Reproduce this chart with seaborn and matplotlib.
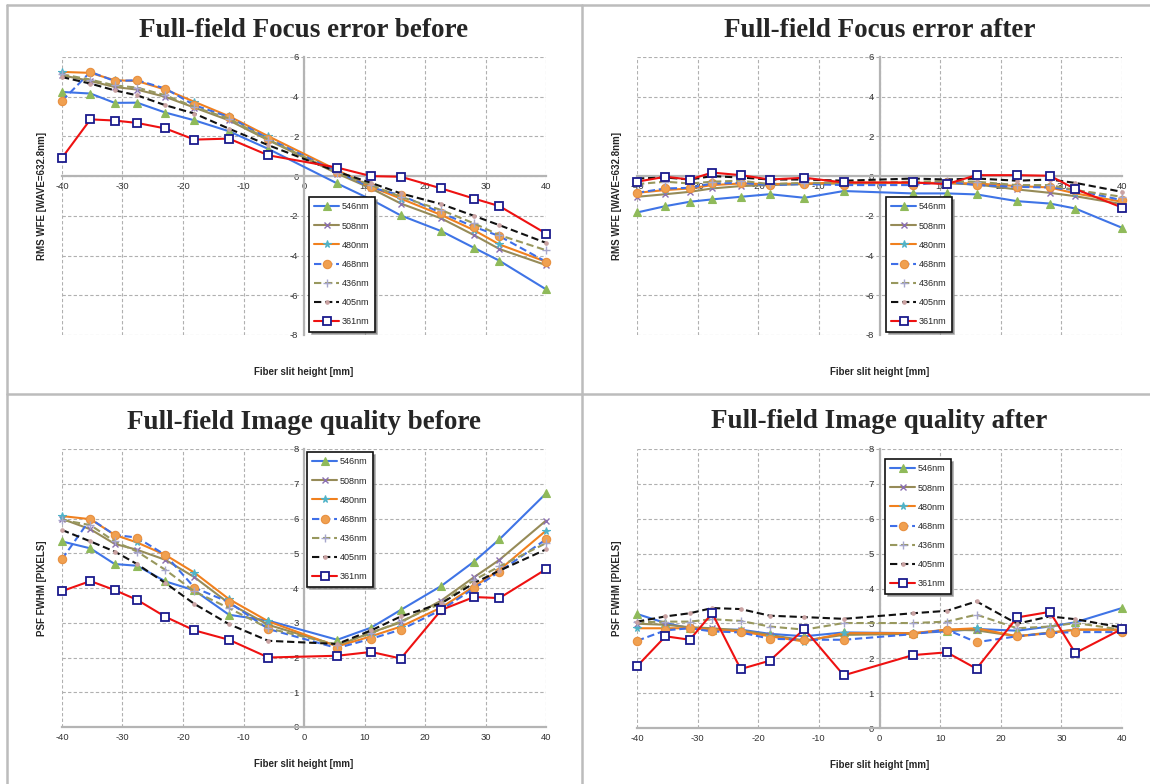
import matplotlib
matplotlib.use("Agg")
import matplotlib.pyplot as plt
from matplotlib.lines import Line2D
import seaborn as sns
import numpy as np

# Field positions along the fiber slit [mm]
slit_height = [-40, -35.3, -31.3, -27.6, -22.9, -18.1, -12.4, -5.9,
               5.5, 11.1, 16.0, 22.7, 28.1, 32.3, 40]

wavelengths = ["546nm", "508nm", "480nm", "468nm", "436nm", "405nm", "361nm"]

# RMS wavefront focus error [waves @ 632.8nm], before refocusing
focus_before = {
    "546nm": [4.24, 4.16, 3.69, 3.70, 3.20, 2.81, 2.26, 1.37, -0.37, -1.18, -1.98, -2.77, -3.61, -4.26, -5.70],
    "508nm": [5.08, 4.79, 4.49, 4.36, 3.99, 3.45, 2.81, 1.81, 0.13, -0.62, -1.38, -2.13, -2.97, -3.67, -4.48],
    "480nm": [5.25, 5.20, 4.83, 4.79, 4.36, 3.74, 3.02, 2.01, 0.30, -0.54, -1.13, -1.96, -2.72, -3.44, -4.31],
    "468nm": [3.79, 5.25, 4.79, 4.83, 4.41, 3.57, 2.98, 1.89, 0.22, -0.57, -0.96, -1.85, -2.55, -3.02, -4.31],
    "436nm": [5.13, 4.86, 4.57, 4.46, 4.07, 3.48, 2.90, 1.84, 0.17, -0.45, -1.04, -1.71, -2.38, -2.97, -3.73],
    "405nm": [4.99, 4.66, 4.32, 4.07, 3.57, 3.15, 2.39, 1.56, 0.22, -0.34, -0.87, -1.41, -2.00, -2.47, -3.36],
    "361nm": [0.92, 2.86, 2.80, 2.68, 2.40, 1.84, 1.89, 1.05, 0.43, 0.00, -0.03, -0.62, -1.13, -1.51, -2.89],
}

# RMS wavefront focus error after refocusing
focus_after = {
    "546nm": [-1.83, -1.51, -1.29, -1.17, -1.04, -0.91, -1.09, -0.75, -0.87, -0.87, -0.92, -1.26, -1.38, -1.63, -2.60],
    "508nm": [-1.04, -0.91, -0.79, -0.62, -0.50, -0.45, -0.40, -0.37, -0.34, -0.36, -0.42, -0.67, -0.84, -1.01, -1.41],
    "480nm": [-0.84, -0.70, -0.62, -0.45, -0.37, -0.40, -0.37, -0.32, -0.34, -0.34, -0.37, -0.50, -0.57, -0.87, -1.29],
    "468nm": [-0.84, -0.62, -0.59, -0.37, -0.34, -0.45, -0.40, -0.45, -0.45, -0.28, -0.45, -0.54, -0.57, -0.70, -1.21],
    "436nm": [-0.40, -0.28, -0.37, -0.28, -0.23, -0.40, -0.34, -0.34, -0.28, -0.25, -0.28, -0.45, -0.45, -0.70, -1.04],
    "405nm": [-0.12, -0.07, -0.17, 0.00, -0.07, -0.17, -0.17, -0.23, -0.12, -0.17, -0.12, -0.23, -0.17, -0.34, -0.79],
    "361nm": [-0.28, -0.03, -0.17, 0.18, 0.05, -0.17, -0.08, -0.32, -0.32, -0.40, 0.05, 0.05, 0.02, -0.65, -1.58],
}

# PSF FWHM [pixels], before refocusing
iq_before = {
    "546nm": [5.34, 5.14, 4.69, 4.64, 4.19, 3.93, 3.23, 3.06, 2.51, 2.86, 3.37, 4.06, 4.76, 5.40, 6.72],
    "508nm": [5.99, 5.69, 5.27, 5.10, 4.81, 4.31, 3.56, 2.94, 2.34, 2.72, 3.01, 3.64, 4.31, 4.81, 5.94],
    "480nm": [6.07, 5.98, 5.53, 5.31, 4.95, 4.44, 3.68, 3.04, 2.32, 2.61, 2.89, 3.44, 4.04, 4.52, 5.65],
    "468nm": [4.83, 5.99, 5.53, 5.45, 4.95, 4.01, 3.59, 2.82, 2.27, 2.54, 2.80, 3.37, 3.99, 4.47, 5.40],
    "436nm": [5.96, 5.81, 5.34, 5.05, 4.52, 3.90, 3.42, 2.84, 2.37, 2.70, 3.04, 3.56, 4.23, 4.62, 5.29],
    "405nm": [5.67, 5.34, 5.05, 4.69, 4.14, 3.54, 2.96, 2.48, 2.39, 2.78, 3.18, 3.56, 4.14, 4.50, 5.11],
    "361nm": [3.91, 4.20, 3.94, 3.66, 3.17, 2.78, 2.51, 2.00, 2.05, 2.16, 1.97, 3.37, 3.74, 3.71, 4.54],
}

# PSF FWHM [pixels], after refocusing
iq_after = {
    "546nm": [3.27, 3.01, 2.86, 2.82, 2.82, 2.70, 2.63, 2.74, 2.72, 2.77, 2.84, 2.79, 2.91, 3.03, 3.44],
    "508nm": [2.99, 2.96, 2.89, 2.86, 2.80, 2.67, 2.51, 2.67, 2.70, 2.82, 2.80, 2.63, 2.74, 2.82, 2.82],
    "480nm": [2.86, 2.86, 2.86, 2.82, 2.77, 2.63, 2.48, 2.72, 2.72, 2.82, 2.86, 2.63, 2.72, 2.82, 2.82],
    "468nm": [2.50, 2.80, 2.86, 2.77, 2.74, 2.56, 2.53, 2.53, 2.69, 2.82, 2.46, 2.63, 2.72, 2.75, 2.75],
    "436nm": [3.03, 3.05, 3.05, 3.12, 3.07, 2.91, 2.82, 3.01, 3.01, 3.05, 3.25, 2.86, 2.91, 3.01, 2.82],
    "405nm": [3.05, 3.20, 3.29, 3.44, 3.41, 3.22, 3.18, 3.13, 3.29, 3.36, 3.63, 2.99, 3.20, 3.12, 2.88],
    "361nm": [1.77, 2.63, 2.53, 3.29, 1.69, 1.93, 2.84, 1.51, 2.09, 2.17, 1.70, 3.17, 3.33, 2.15, 2.84],
}

titles = ["Full-field Focus error before", "Full-field Focus error after",
          "Full-field Image quality before", "Full-field Image quality after"]
xlabel_text = "Fiber slit height [mm]"
ylabel_focus = "RMS WFE [WAVE=632.8nm]"
ylabel_iq = "PSF FWHM [PIXELS]"

# Line / marker style for each wavelength
styles = {
    "546nm": dict(color="#3f74e6", ls="-", marker="^", ms=5.5, mfc="#8fba5a", mec="#8fba5a"),
    "508nm": dict(color="#968b58", ls="-", marker="x", ms=5, mfc="#8a6fb0", mec="#8a6fb0", mew=1.0),
    "480nm": dict(color="#f0801e", ls="-", marker="*", ms=5.5, mfc="#4fb3c8", mec="#4fb3c8"),
    "468nm": dict(color="#3f6fe8", ls=(0, (3.5, 1.8)), marker="o", ms=6, mfc="#f0a050", mec="#e89040"),
    "436nm": dict(color="#98985e", ls=(0, (3.5, 1.8)), marker="+", ms=6, mfc="#a7a7cc", mec="#a7a7cc", mew=1.0),
    "405nm": dict(color="#111111", ls=(0, (3.5, 1.8)), marker="o", ms=2.5, mfc="#caa2a2", mec="#caa2a2"),
    "361nm": dict(color="#ee1111", ls="-", marker="s", ms=5.5, mfc="white", mec="#1a1a8c", mew=1.3),
}

sns.set_style("white")
plt.rcParams["font.family"] = ["Liberation Sans", "DejaVu Sans"]

fig = plt.figure(figsize=(11.5, 7.84), dpi=100)
W, H = 1150, 784


def px_axes(left, top, right, bottom):
    return fig.add_axes([left / W, 1 - bottom / H, (right - left) / W, (bottom - top) / H])


panels = [
    (px_axes(62, 57, 546, 335), focus_before, (-8, 6), 2, ylabel_focus, (309, 197)),
    (px_axes(637, 57, 1122, 335), focus_after, (-8, 6), 2, ylabel_focus, (886, 197)),
    (px_axes(62, 449, 546, 727), iq_before, (0, 8), 1, ylabel_iq, (307, 452)),
    (px_axes(637, 449, 1122, 728), iq_after, (0, 8), 1, ylabel_iq, (885, 459)),
]

grid_color = "#b0b0b0"
axis_color = "#b4b4b4"

for (ax, data, ylim, ystep, ylabel, leg_xy), title in zip(panels, titles):
    for wl in wavelengths:
        st = styles[wl]
        sns.lineplot(x=np.array(slit_height), y=np.array(data[wl]), ax=ax,
                     color=st["color"], linestyle=st["ls"], linewidth=1.5,
                     marker=st["marker"], markersize=st["ms"],
                     markerfacecolor=st["mfc"], markeredgecolor=st["mec"],
                     markeredgewidth=st.get("mew", 0.8), label=wl,
                     clip_on=False, zorder=3)

    ax.set_xlim(-40, 40)
    ax.set_ylim(*ylim)
    ax.set_xticks(np.arange(-40, 41, 10))
    ax.set_yticks(np.arange(ylim[0], ylim[1] + 0.1, ystep))
    ax.grid(True, color=grid_color, linestyle=(0, (3, 2)), linewidth=0.8)
    ax.set_axisbelow(True)

    # axes cross at the origin
    ax.spines["left"].set_position(("data", 0))
    ax.spines["bottom"].set_position(("data", 0))
    ax.spines["right"].set_visible(False)
    ax.spines["top"].set_visible(False)
    for sp in ("left", "bottom"):
        ax.spines[sp].set_color(axis_color)
        ax.spines[sp].set_linewidth(1.6)
        ax.spines[sp].set_zorder(2)
    ax.tick_params(axis="both", labelsize=6.8, labelcolor="#333333", length=0, pad=4)
    ax.set_xticklabels([str(v) for v in range(-40, 41, 10)])
    ax.set_yticklabels([str(int(v)) for v in np.arange(ylim[0], ylim[1] + 0.1, ystep)])

    ax.set_xlabel(xlabel_text, fontsize=7, fontweight="bold")
    ax.xaxis.set_label_coords(0.5, -0.115)
    ax.set_ylabel(ylabel, fontsize=7, fontweight="bold")
    ax.yaxis.set_label_coords(-0.03, 0.5)

    ax.text(0.5, 1.097, title, transform=ax.transAxes, ha="center", va="center",
            fontsize=19.5, fontweight="bold", family=["Liberation Serif", "DejaVu Serif"])

    leg = ax.legend(loc="upper left", bbox_to_anchor=(leg_xy[0] / W, 1 - leg_xy[1] / H),
                    bbox_transform=fig.transFigure, borderaxespad=0, fontsize=6.5,
                    handlelength=2.7, handletextpad=0.3, labelspacing=1.12,
                    borderpad=0.6, numpoints=1, fancybox=False,
                    shadow={"color": "#777777", "alpha": 0.6, "ox": 2, "oy": -2},
                    frameon=True)
    leg.get_frame().set_edgecolor("#111111")
    leg.get_frame().set_linewidth(1.2)
    leg.set_zorder(5)

# panel separators
sep_kw = dict(color="#bcbcbc", linewidth=1.8, transform=fig.transFigure)
fig.add_artist(Line2D([7 / W, 7 / W], [0, 1 - 5 / H], **sep_kw))
fig.add_artist(Line2D([582 / W, 582 / W], [0, 1 - 5 / H], **sep_kw))
fig.add_artist(Line2D([7 / W, 1], [1 - 5 / H, 1 - 5 / H], **sep_kw))
fig.add_artist(Line2D([7 / W, 1], [1 - 394 / H, 1 - 394 / H], **sep_kw))

fig.savefig("out.png", dpi=100)
